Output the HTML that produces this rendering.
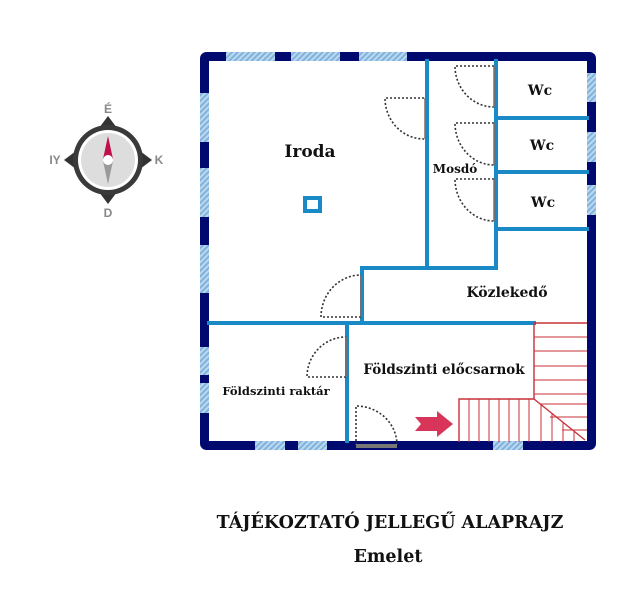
<!DOCTYPE html>
<html><head><meta charset="utf-8"><style>body{margin:0;background:#fff}svg{display:block}</style></head><body>
<svg width="640" height="601" viewBox="0 0 640 601" xmlns="http://www.w3.org/2000/svg">
<defs>
<pattern id="h" width="4" height="4" patternUnits="userSpaceOnUse" patternTransform="rotate(45)"><rect width="4" height="4" fill="#bcd8ee"/><rect width="2" height="4" fill="#7fb3dd"/></pattern>
</defs>
<rect x="204.5" y="56.5" width="387" height="389" fill="none" stroke="#000a6e" stroke-width="9" rx="2"/>
<g fill="url(#h)">
<rect x="226" y="52" width="49" height="9"/><rect x="291" y="52" width="49" height="9"/><rect x="359" y="52" width="48" height="9"/>
<rect x="200" y="93" width="9" height="49"/><rect x="200" y="168" width="9" height="49"/><rect x="200" y="245" width="9" height="48"/><rect x="200" y="347" width="9" height="28"/><rect x="200" y="383" width="9" height="30"/>
<rect x="587" y="73" width="9" height="29"/><rect x="587" y="132" width="9" height="30"/><rect x="587" y="185" width="9" height="30"/>
<rect x="255" y="441" width="30" height="9"/><rect x="298" y="441" width="29" height="9"/><rect x="493" y="441" width="30" height="9"/>
</g>
<g stroke="#1a8ac6" stroke-width="4" fill="none" stroke-linecap="square">
<line x1="427" y1="61" x2="427" y2="268"/><line x1="496" y1="61" x2="496" y2="268"/>
<line x1="496" y1="118" x2="587" y2="118"/><line x1="496" y1="172" x2="587" y2="172"/><line x1="496" y1="229" x2="587" y2="229"/>
<line x1="362" y1="268" x2="496" y2="268"/><line x1="362" y1="268" x2="362" y2="323"/>
<line x1="209" y1="323" x2="534" y2="323"/><line x1="347" y1="323" x2="347" y2="441"/>
</g>
<rect x="305" y="198" width="15" height="13" fill="none" stroke="#1a8ac6" stroke-width="4"/>
<g fill="none" stroke="#333" stroke-width="1.6" stroke-dasharray="2,2">
<path d="M424 98 H385 A39 41 0 0 0 424 139"/>
<path d="M494 66 H455 A39 41 0 0 0 494 107"/>
<path d="M494 123 H455 A39 42 0 0 0 494 165"/>
<path d="M494 179 H455 A39 42 0 0 0 494 221"/>
<path d="M361 317 H321 A40 42 0 0 1 361 275"/>
<path d="M346 377 H307 A39 40 0 0 1 346 337"/>
<path d="M356 445 V406 A41 39 0 0 1 397 445"/>
</g>
<g stroke="#8a6a5a" stroke-width="1.5">
<line x1="425" y1="98" x2="425" y2="139"/><line x1="494" y1="66" x2="494" y2="107"/><line x1="494" y1="123" x2="494" y2="165"/><line x1="494" y1="179" x2="494" y2="221"/><line x1="361" y1="275" x2="361" y2="317"/><line x1="346" y1="337" x2="346" y2="377"/>
</g>
<rect x="356" y="444" width="41" height="4" fill="#777"/>
<g stroke="#c8303a" stroke-width="1.4" fill="none">
<path d="M534 323 H587 M534 323 V399 H459 V442 M534 399 L585 440"/>
<path d="M534 337H587M534 351H587M534 366H587M534 380H587M534 394H587M540 404H587M550 417H587M562 430H587" stroke-width="1"/>
<path d="M469 399V442M479 399V442M489 399V442M499 399V442M509 399V442M519 399V442M529 399V442M541 405V442M552 414V442M563 423V442M574 432V442" stroke-width="1"/>
</g>
<polygon points="415,417 437,417 437,411 453,424 437,437 437,431 415,431 421,424" fill="#d8355a"/>
<g font-family="DejaVu Serif, serif" font-weight="bold" fill="#111" text-anchor="middle">
<text x="310" y="157" font-size="17">Iroda</text>
<text x="455" y="173" font-size="12">Mosdó</text>
<text x="540" y="95" font-size="14">Wc</text>
<text x="542" y="150" font-size="14">Wc</text>
<text x="543" y="207" font-size="14">Wc</text>
<text x="507" y="297" font-size="14">Közlekedő</text>
<text x="444" y="374" font-size="13.5">Földszinti előcsarnok</text>
<text x="276" y="395" font-size="11.5">Földszinti raktár</text>
<text x="390" y="528" font-size="17.5">TÁJÉKOZTATÓ JELLEGŰ ALAPRAJZ</text>
<text x="388" y="562" font-size="17.5">Emelet</text>
</g>
<g>
<polygon points="108,116 120,132 96,132" fill="#333"/>
<polygon points="108,204 120,188 96,188" fill="#333"/>
<polygon points="64,160 80,148 80,172" fill="#333"/>
<polygon points="152,160 136,148 136,172" fill="#333"/>
<circle cx="108" cy="160" r="35" fill="#3a3a3a"/>
<circle cx="108" cy="160" r="30" fill="#fff"/>
<circle cx="108" cy="160" r="27" fill="#ddd"/>
<polygon points="108,136 113,159 103,159" fill="#c0104a"/>
<polygon points="108,184 113,161 103,161" fill="#999"/>
<circle cx="108" cy="160" r="5" fill="#fff"/>
<g font-family="Liberation Sans, sans-serif" font-weight="bold" font-size="12" fill="#888" text-anchor="middle">
<text x="108" y="113">É</text><text x="108" y="217">D</text><text x="55" y="164">IY</text><text x="159" y="164">K</text>
</g>
</g>
</svg>
</body></html>
